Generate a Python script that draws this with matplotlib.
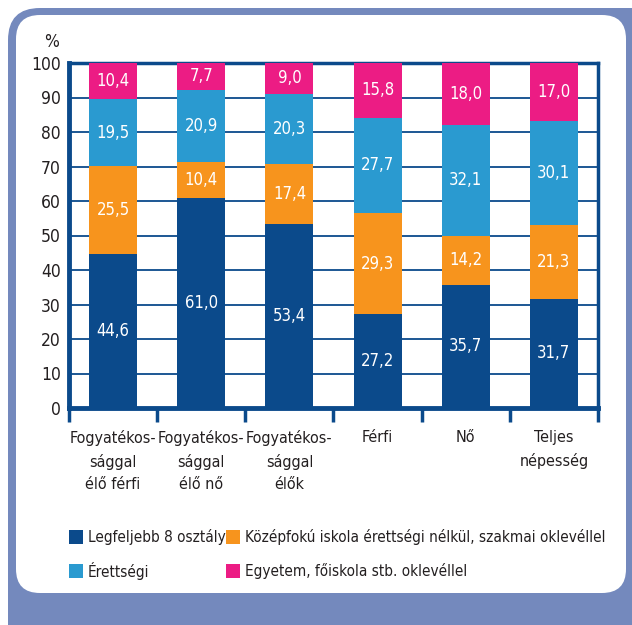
import matplotlib
matplotlib.use("Agg")
import matplotlib.pyplot as plt
from matplotlib.patches import FancyBboxPatch, Rectangle
import numpy as np

plt.rcParams['font.family'] = ['DejaVu Sans']
plt.rcParams['font.stretch'] = 'condensed'

categories = ["Fogyatékos-\nsággal\nélő férfi", "Fogyatékos-\nsággal\nélő nő",
              "Fogyatékos-\nsággal\nélők", "Férfi\n\n", "Nő\n\n", "Teljes\nnépesség\n"]
series_names = ["Legfeljebb 8 osztály",
                "Középfokú iskola érettségi nélkül, szakmai oklevéllel",
                "Érettségi",
                "Egyetem, főiskola stb. oklevéllel"]
legf = [44.6, 61.0, 53.4, 27.2, 35.7, 31.7]
kozep = [25.5, 10.4, 17.4, 29.3, 14.2, 21.3]
erett = [19.5, 20.9, 20.3, 27.7, 32.1, 30.1]
egyetem = [10.4, 7.7, 9.0, 15.8, 18.0, 17.0]
yticks = list(range(0, 101, 10))

colors = ["#0b4a8b", "#f7941d", "#2a9ad0", "#ec1c84"]
navy = "#0b4a8b"
frame_blue = "#7489bd"
txt = "#231f20"

W, H = 632, 625
fig = plt.figure(figsize=(W / 100, H / 100), dpi=100)

# background frame in pixel coordinates
bg = fig.add_axes([0, 0, 1, 1])
bg.set_xlim(0, W)
bg.set_ylim(H, 0)
bg.axis("off")
bg.add_patch(FancyBboxPatch((8, 8), 660, 660, boxstyle="round,pad=0,rounding_size=32",
                            fc=frame_blue, ec="none"))
bg.add_patch(FancyBboxPatch((16, 15), 610, 578, boxstyle="round,pad=0,rounding_size=24",
                            fc="white", ec="none"))

ax = fig.add_axes([69 / W, 1 - 408 / H, (598 - 69) / W, (408 - 63) / H])
ax.set_facecolor("white")
x = np.arange(len(categories))
bw = 0.545
bottom = np.zeros(len(categories))
for vals, c in zip([legf, kozep, erett, egyetem], colors):
    vals = np.array(vals)
    ax.bar(x, vals, bw, bottom=bottom, color=c, zorder=3)
    for xi, b, v in zip(x, bottom, vals):
        ax.text(xi, b + v / 2, f"{v:.1f}".replace(".", ","), ha="center", va="center",
                color="white", fontsize=12, zorder=4)
    bottom += vals

ax.set_xlim(-0.5, len(categories) - 0.5)
ax.set_ylim(0, 100)
ax.set_yticks(yticks)
ax.set_yticklabels([str(t) for t in yticks], fontsize=12.5, color=txt)
ax.tick_params(axis="y", length=0, pad=6)
ax.yaxis.grid(True, color=navy, linewidth=1.3, zorder=1)

ax.set_xticks(x)
ax.set_xticklabels(categories, fontsize=11.5, color=txt, linespacing=1.6, va="top")
ax.tick_params(axis="x", which="major", length=0, pad=16)
ax.set_xticks(np.arange(len(categories) + 1) - 0.5, minor=True)
ax.tick_params(axis="x", which="minor", length=10, width=2.5, color=navy, direction="out")

for side in ["left", "bottom"]:
    ax.spines[side].set_color(navy)
    ax.spines[side].set_linewidth(3.5)
for side in ["top", "right"]:
    ax.spines[side].set_color(navy)
    ax.spines[side].set_linewidth(2.5)

fig.text(52 / W, 1 - 42 / H, "%", ha="center", va="center", fontsize=12.5, color=txt)

# legend
pos = [(69, 537), (226, 537), (69, 571), (226, 571)]
for (lx, ly), c, name in zip(pos, colors, series_names):
    bg.add_patch(Rectangle((lx, ly - 7), 14, 14, fc=c, ec="none"))
    bg.text(lx + 19, ly, name, ha="left", va="center", fontsize=11, color=txt)

fig.savefig("out.png", dpi=100)
